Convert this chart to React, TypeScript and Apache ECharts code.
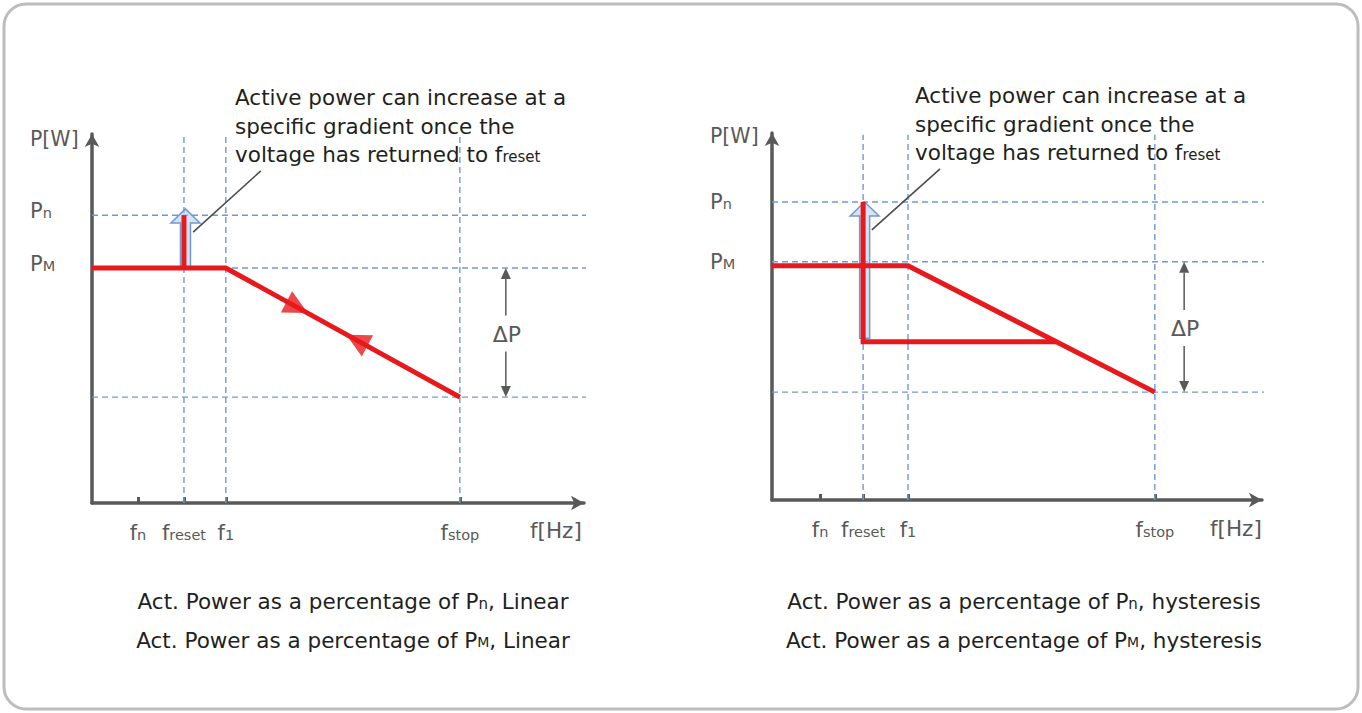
import React, { useEffect, useRef } from "react";
import * as echarts from "echarts";

// ---------- data ----------
const freqSubs = ["n", "reset", "1", "stop"]; // f_n, f_reset, f_1, f_stop
const linFreq = [1.0, 2.0, 2.91, 8.0];
const hysFreq = [1.05, 1.99, 2.97, 8.36];
const powerSubs = ["M", "n"]; // P_M, P_n
const linPower = [63.7, 78.0];
const hysPower = [64.9, 81.2];
const linStop = 28.7;
const hysStop = 29.4;

// red characteristic curves
const linCurveX = [0, 2.91, 8.0];
const linCurveY = [63.7, 63.7, 28.7];
const linStepX = [2.0, 2.0];
const linStepY = [63.7, 78.0];
const hysCurveX = [0, 2.97, 8.36];
const hysCurveY = [63.8, 63.8, 29.4];
const hysLoopX = [1.99, 1.99, 6.2];
const hysLoopY = [81.2, 43.1, 43.1];

// direction markers on the linear slope
const linMarkX = [4.46, 5.76];
const linMarkY = [53.0, 44.1];
const linMarkRot = [-118, 62];

// hollow "boost" arrows: [f, from P, to P]
const linBoost = [2.0, 63.7, 79.7];
const hysBoost = [1.99, 44.1, 81.2];

// annotation leader lines
const linLeaderX = [2.2, 3.67];
const linLeaderY = [73.4, 90.0];
const hysLeaderX = [2.18, 3.67];
const hysLeaderY = [73.6, 90.2];

const deltaF = 9.0;
const guideEnd = 11.0;
const guideTop = 99.5;
const xMax = 10.7;
const yMax = 100;

const annotation = [
  "Active power can increase at a",
  "specific gradient once the",
  "voltage has returned to f{s|reset}",
];
const captionsLeft = [
  "Act. Power as a percentage of P{s|n}, Linear",
  "Act. Power as a percentage of P{m|M}, Linear",
];
const captionsRight = [
  "Act. Power as a percentage of P{s|n}, hysteresis",
  "Act. Power as a percentage of P{m|M}, hysteresis",
];

// ---------- styles ----------
const FONT = "'DejaVu Sans', 'Noto Sans', sans-serif";
const AXIS = "#595959";
const RED = "#e8191c";
const BLUE = "#7199d4";
const TEXT = "#231f20";
const FS = 21.5;

const zip = (xs: number[], ys: number[]) => xs.map((x, i) => [x, ys[i]]);

function guide(id: string, gi: number, pts: number[][]) {
  return {
    id,
    type: "line",
    xAxisIndex: gi,
    yAxisIndex: gi,
    data: pts,
    symbol: "none",
    silent: true,
    clip: false,
    z: 1,
    lineStyle: { color: BLUE, width: 1.4, type: [6, 4] },
  };
}

function red(id: string, gi: number, pts: number[][]) {
  return {
    id,
    type: "line",
    xAxisIndex: gi,
    yAxisIndex: gi,
    data: pts,
    symbol: "none",
    silent: true,
    clip: false,
    z: 4,
    lineStyle: { color: RED, width: 5, join: "miter", cap: "butt" },
  };
}

function boostItem(_p: any, api: any) {
  const x = api.value(0);
  const b = api.coord([x, api.value(1)]);
  const t = api.coord([x, api.value(2)]);
  const cx = b[0] + 1.5;
  const sw = 5;
  const hw = 14.5;
  const hh = 14;
  const points = [
    [cx - sw, b[1]],
    [cx - sw, t[1] + hh],
    [cx - hw, t[1] + hh],
    [cx, t[1]],
    [cx + hw, t[1] + hh],
    [cx + sw, t[1] + hh],
    [cx + sw, b[1]],
  ];
  return {
    type: "polygon",
    shape: { points },
    style: { fill: "rgba(176,200,235,0.5)", stroke: BLUE, lineWidth: 1.5 },
  };
}

function deltaItem(_p: any, api: any) {
  const x = api.value(0);
  const top = api.coord([x, api.value(1)]);
  const bot = api.coord([x, api.value(2)]);
  const px = top[0];
  const mid = (top[1] + bot[1]) / 2;
  const ah = 11;
  const aw = 5;
  const ls = { stroke: AXIS, lineWidth: 1.5 };
  return {
    type: "group",
    children: [
      { type: "line", shape: { x1: px, y1: top[1] + ah, x2: px, y2: mid - 17 }, style: ls },
      { type: "line", shape: { x1: px, y1: mid + 19, x2: px, y2: bot[1] - ah }, style: ls },
      {
        type: "polygon",
        shape: { points: [[px, top[1]], [px - aw, top[1] + ah], [px + aw, top[1] + ah]] },
        style: { fill: AXIS },
      },
      {
        type: "polygon",
        shape: { points: [[px, bot[1]], [px - aw, bot[1] - ah], [px + aw, bot[1] - ah]] },
        style: { fill: AXIS },
      },
      {
        type: "text",
        x: px + 1,
        y: mid + 2,
        style: {
          text: "ΔP",
          fill: AXIS,
          fontSize: 22,
          fontFamily: FONT,
          align: "center",
          verticalAlign: "middle",
        },
      },
    ],
  };
}

function xAxisCfg(gi: number, freq: number[]) {
  return {
    gridIndex: gi,
    type: "value",
    min: 0,
    max: xMax,
    splitLine: { show: false },
    axisLine: {
      show: true,
      onZero: false,
      symbol: ["none", "arrow"],
      symbolSize: [11, 13],
      lineStyle: { color: AXIS, width: 3.5 },
    },
    axisTick: {
      show: true,
      inside: true,
      length: 6,
      customValues: freq,
      lineStyle: { color: AXIS, width: 3 },
    },
    axisLabel: {
      show: true,
      customValues: freq,
      margin: 19,
      color: AXIS,
      fontSize: 21,
      fontFamily: FONT,
      formatter: (v: number) => {
        const i = freq.findIndex((f) => Math.abs(f - v) < 1e-6);
        return "f{s|" + (i >= 0 ? freqSubs[i] : "") + "}";
      },
      rich: {
        s: { fontSize: 14.5, color: AXIS, fontFamily: FONT, verticalAlign: "bottom", padding: [0, 0, 1, 0] },
      },
    },
  };
}

function yAxisCfg(gi: number, power: number[], margin: number, lift: number) {
  return {
    gridIndex: gi,
    type: "value",
    min: 0,
    max: yMax,
    splitLine: { show: false },
    axisLine: {
      show: true,
      onZero: false,
      symbol: ["none", "arrow"],
      symbolSize: [11, 13],
      lineStyle: { color: AXIS, width: 3.5 },
    },
    axisTick: { show: false },
    axisLabel: {
      show: true,
      customValues: power,
      margin,
      align: "left",
      color: AXIS,
      fontSize: 21,
      fontFamily: FONT,
      padding: [0, 0, lift, 0],
      formatter: (v: number) => {
        const i = power.findIndex((p) => Math.abs(p - v) < 1e-6);
        return "P{s|" + (i >= 0 ? powerSubs[i] : "") + "}";
      },
      rich: {
        s: { fontSize: 14.5, color: AXIS, fontFamily: FONT, verticalAlign: "bottom", padding: [0, 0, 1, 0] },
      },
    },
  };
}

function textEl(text: string, x: number, y: number, opts: any = {}) {
  return {
    type: "text",
    x,
    y,
    silent: true,
    style: {
      text,
      fill: opts.fill || TEXT,
      fontSize: opts.fontSize || FS,
      fontFamily: FONT,
      align: opts.align || "left",
      verticalAlign: "middle",
      rich: {
        s: { fontSize: 15, fill: opts.fill || TEXT, fontFamily: FONT, verticalAlign: "bottom", padding: [0, 0, 1, 0] },
        m: { fontSize: 14, fill: opts.fill || TEXT, fontFamily: FONT, verticalAlign: "bottom", padding: [0, 0, 2, 0] },
      },
    },
  };
}

export default function App() {
  const ref = useRef<HTMLDivElement>(null);
  useEffect(() => {
    if (!ref.current) return;
    const chart = echarts.init(ref.current, undefined, { renderer: "svg" });

    const series: any[] = [];
    // guides – left
    series.push(guide("lg1", 0, [[0, linPower[1]], [guideEnd, linPower[1]]]));
    series.push(guide("lg2", 0, [[0, linPower[0]], [guideEnd, linPower[0]]]));
    series.push(guide("lg3", 0, [[0, linStop], [guideEnd, linStop]]));
    [1, 2, 3].forEach((i) =>
      series.push(guide("lv" + i, 0, [[linFreq[i], 0], [linFreq[i], guideTop]]))
    );
    // guides – right
    series.push(guide("rg1", 1, [[0, hysPower[1]], [guideEnd, hysPower[1]]]));
    series.push(guide("rg2", 1, [[0, hysPower[0]], [guideEnd, hysPower[0]]]));
    series.push(guide("rg3", 1, [[0, hysStop], [guideEnd, hysStop]]));
    [1, 2, 3].forEach((i) =>
      series.push(guide("rv" + i, 1, [[hysFreq[i], 0], [hysFreq[i], guideTop]]))
    );
    // boost arrows
    series.push({
      id: "lboost", type: "custom", xAxisIndex: 0, yAxisIndex: 0, z: 3, silent: true,
      renderItem: boostItem, data: [linBoost],
    });
    series.push({
      id: "rboost", type: "custom", xAxisIndex: 1, yAxisIndex: 1, z: 3, silent: true,
      renderItem: boostItem, data: [hysBoost],
    });
    // red curves
    series.push(red("lcurve", 0, zip(linCurveX, linCurveY)));
    series.push(red("lstep", 0, zip(linStepX, linStepY)));
    series.push(red("rcurve", 1, zip(hysCurveX, hysCurveY)));
    series.push(red("rloop", 1, zip(hysLoopX, hysLoopY)));
    // direction markers
    series.push({
      id: "lmarks", type: "scatter", xAxisIndex: 0, yAxisIndex: 0, z: 5, silent: true,
      symbol: "triangle", symbolSize: [24, 24],
      itemStyle: { color: RED },
      data: linMarkX.map((x, i) => ({ value: [x, linMarkY[i]], symbolRotate: linMarkRot[i] })),
    });
    // leaders
    const leader = (id: string, gi: number, pts: number[][]) => ({
      id, type: "line", xAxisIndex: gi, yAxisIndex: gi, data: pts, symbol: "none",
      silent: true, clip: false, z: 6, lineStyle: { color: "#4d4d4d", width: 1.6 },
    });
    series.push(leader("lleader", 0, zip(linLeaderX, linLeaderY)));
    series.push(leader("rleader", 1, zip(hysLeaderX, hysLeaderY)));
    // delta P
    series.push({
      id: "ldelta", type: "custom", xAxisIndex: 0, yAxisIndex: 0, z: 5, silent: true,
      renderItem: deltaItem, data: [[deltaF, linPower[0], linStop]],
    });
    series.push({
      id: "rdelta", type: "custom", xAxisIndex: 1, yAxisIndex: 1, z: 5, silent: true,
      renderItem: deltaItem, data: [[deltaF, hysPower[0], hysStop]],
    });

    const graphic: any[] = [
      {
        type: "rect",
        x: 4,
        y: 4,
        shape: { width: 1354, height: 705, r: 22 },
        style: { fill: "none", stroke: "#bdbdbd", lineWidth: 3 },
        silent: true,
      },
      textEl("P[W]", 30, 139, { fill: AXIS, fontSize: 20.5 }),
      textEl("f[Hz]", 530, 530, { fill: AXIS, fontSize: 21.5 }),
      textEl("P[W]", 710, 136, { fill: AXIS, fontSize: 20.5 }),
      textEl("f[Hz]", 1210, 528, { fill: AXIS, fontSize: 21.5 }),
    ];
    const annY1 = [97, 126, 154];
    const annY2 = [95, 124, 152];
    annotation.forEach((t, i) => {
      graphic.push(textEl(t, 235, annY1[i]));
      graphic.push(textEl(t, 915, annY2[i]));
    });
    const capY = [601, 640];
    captionsLeft.forEach((t, i) => graphic.push(textEl(t, 353, capY[i], { align: "center" })));
    captionsRight.forEach((t, i) => graphic.push(textEl(t, 1024, capY[i], { align: "center" })));

    chart.setOption({
      animation: false,
      backgroundColor: "#ffffff",
      grid: [
        { left: 92, top: 134, width: 492, height: 369, containLabel: false, outerBoundsMode: "none" },
        { left: 772, top: 133, width: 490, height: 367, containLabel: false, outerBoundsMode: "none" },
      ],
      xAxis: [xAxisCfg(0, linFreq), xAxisCfg(1, hysFreq)],
      yAxis: [yAxisCfg(0, linPower, 62, 8), yAxisCfg(1, hysPower, 62, 0)],
      series,
      graphic,
    });
    return () => chart.dispose();
  }, []);
  return (
    <div
      ref={ref}
      style={{ position: "absolute", left: 0, top: 0, width: 1362, height: 713 }}
    />
  );
}
